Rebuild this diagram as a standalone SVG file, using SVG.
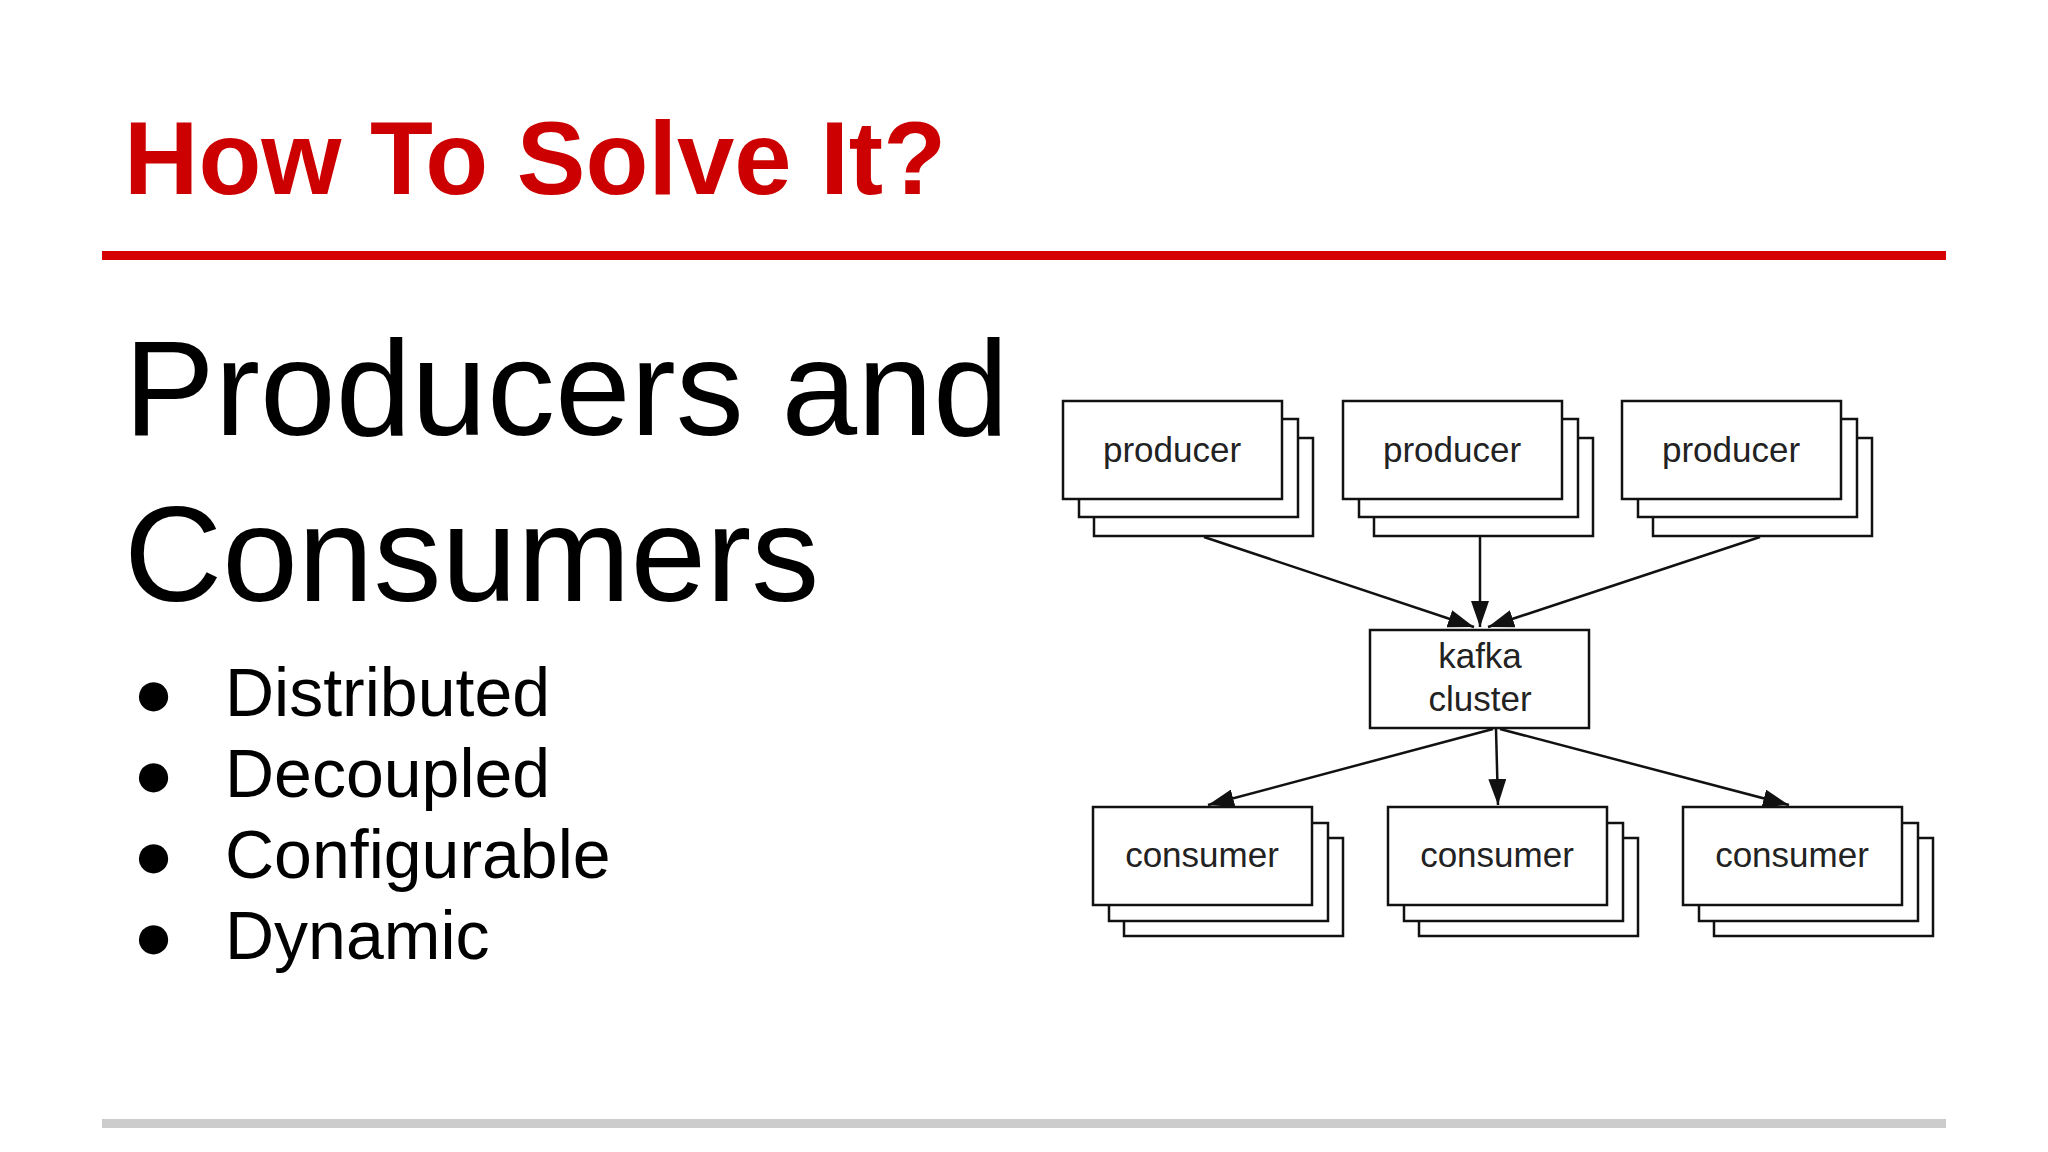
<svg xmlns="http://www.w3.org/2000/svg" width="2048" height="1152" viewBox="0 0 2048 1152">
<style>
.b{fill:#fff;stroke:#111;stroke-width:2.5}
.t{font-family:"Liberation Sans",Arial,sans-serif;font-size:35px;fill:#222;text-anchor:middle}
.c{stroke:#111;stroke-width:2.5;fill:none;marker-end:url(#a2)}
.bl{font-family:"Liberation Sans",Arial,sans-serif;font-size:68px;fill:#000}
</style>
<defs>
<marker id="a2" viewBox="0 0 10 10" refX="10" refY="5" markerWidth="26" markerHeight="18" markerUnits="userSpaceOnUse" orient="auto" preserveAspectRatio="none"><path d="M0,0 L10,5 L0,10z" fill="#111"/></marker>
<g id="st"><rect class="b" x="31" y="37" width="219" height="98"/><rect class="b" x="16" y="18" width="219" height="98"/><rect class="b" x="0" y="0" width="219" height="98"/></g>
<g id="sc"><rect class="b" x="31" y="31" width="219" height="98"/><rect class="b" x="16" y="16" width="219" height="98"/><rect class="b" x="0" y="0" width="219" height="98"/></g>
</defs>
<rect width="2048" height="1152" fill="#fff"/>
<text x="124" y="194" font-family="Liberation Sans,Arial,sans-serif" font-weight="bold" font-size="103" fill="#cc0000">How To Solve It?</text>
<rect x="102" y="251" width="1844" height="9" fill="#d50000"/>
<text x="124" y="435" font-family="Liberation Sans,Arial,sans-serif" font-size="136" fill="#000">Producers and</text>
<text x="124" y="601" font-family="Liberation Sans,Arial,sans-serif" font-size="136" fill="#000">Consumers</text>
<g class="bl">
<text x="133" y="716">●</text><text x="225" y="716">Distributed</text>
<text x="133" y="797">●</text><text x="225" y="797">Decoupled</text>
<text x="133" y="878">●</text><text x="225" y="878">Configurable</text>
<text x="133" y="959">●</text><text x="225" y="959">Dynamic</text>
</g>
<rect x="102" y="1119" width="1844" height="9" fill="#ccc"/>
<g id="connectors">
<line class="c" x1="1204" y1="537" x2="1474" y2="627"/>
<line class="c" x1="1480" y1="537" x2="1480" y2="627"/>
<line class="c" x1="1760" y1="537" x2="1488" y2="627"/>
<line class="c" x1="1493" y1="729" x2="1208" y2="805"/>
<line class="c" x1="1496" y1="729" x2="1498" y2="805"/>
<line class="c" x1="1500" y1="729" x2="1789" y2="805"/>
</g>
<g id="p1"><use href="#st" x="1063" y="401"/><text class="t" x="1172" y="462">producer</text></g>
<g id="p2"><use href="#st" x="1343" y="401"/><text class="t" x="1452" y="462">producer</text></g>
<g id="p3"><use href="#st" x="1622" y="401"/><text class="t" x="1731" y="462">producer</text></g>
<g id="kafka"><rect class="b" x="1370" y="630" width="219" height="98"/><text class="t" x="1480" y="668">kafka</text><text class="t" x="1480" y="711">cluster</text></g>
<g id="c1"><use href="#sc" x="1093" y="807"/><text class="t" x="1202" y="867">consumer</text></g>
<g id="c2"><use href="#sc" x="1388" y="807"/><text class="t" x="1497" y="867">consumer</text></g>
<g id="c3"><use href="#sc" x="1683" y="807"/><text class="t" x="1792" y="867">consumer</text></g>
</svg>
